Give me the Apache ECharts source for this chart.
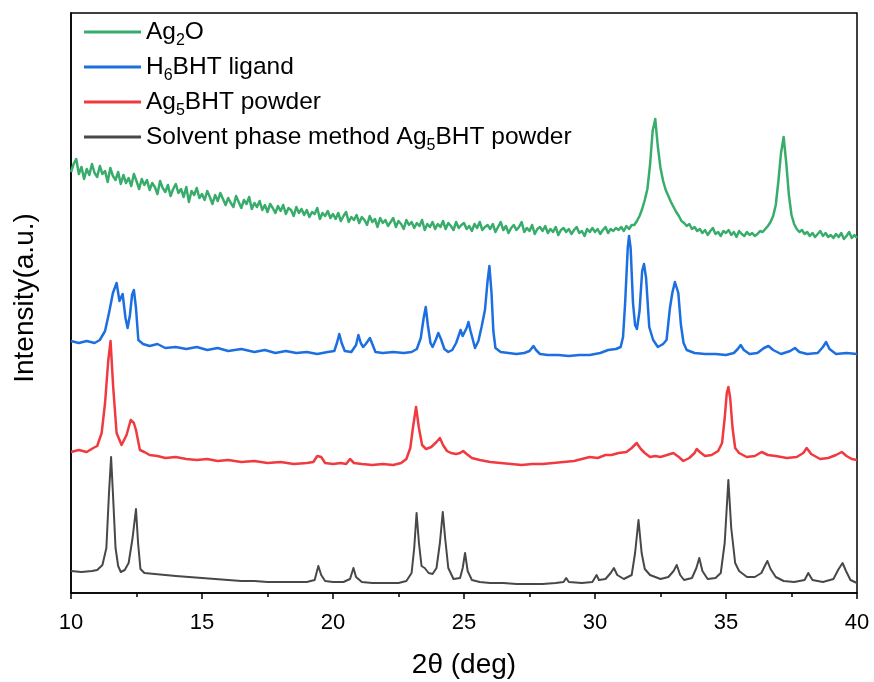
<!DOCTYPE html>
<html>
<head>
<meta charset="utf-8">
<script src="https://cdn.jsdelivr.net/npm/echarts@6/dist/echarts.min.js"></script>
<style>
html,body{margin:0;padding:0;background:#fff;}
#chart{width:874px;height:682px;}
</style>
</head>
<body>
<div id="chart"></div>
<script>
// 2θ axis
const xMin = 10, xMax = 40, xInterval = 5;

// Series names (legend labels use rich-text subscripts)
const seriesNames = ['Ag2O', 'H6BHT ligand', 'Ag5BHT powder', 'Solvent phase method Ag5BHT powder'];
const legendLabels = {
  'Ag2O': '{m|Ag}{sub|2}{m|O}',
  'H6BHT ligand': '{m|H}{sub|6}{m|BHT ligand}',
  'Ag5BHT powder': '{m|Ag}{sub|5}{m|BHT powder}',
  'Solvent phase method Ag5BHT powder': '{m|Solvent phase method Ag}{sub|5}{m|BHT powder}'
};

// Ag2O scan: evenly stepped, 10.0° to 40.0° every 0.1° (offset intensity, a.u.)
const ag2oStart = 10, ag2oStep = 0.1;
const ag2o = [
  421, 429, 434, 419, 426, 414, 424, 418, 429, 420,
  416, 427, 419, 422, 411, 425, 417, 413, 421, 409,
  418, 410, 415, 407, 419, 412, 404, 414, 408, 413,
  403, 410, 406, 399, 412, 405, 401, 408, 397, 404,
  409, 400, 404, 396, 406, 391, 402, 398, 405, 395,
  399, 393, 402, 396, 389, 398, 392, 400, 394, 388,
  395, 390, 386, 397, 391, 385, 393, 389, 396, 384,
  390, 386, 392, 383, 388, 381, 389, 385, 380, 387,
  382, 388, 379, 385, 383, 377, 386, 380, 384, 378,
  383, 376, 381, 379, 385, 374, 380, 377, 382, 375,
  379, 374, 380, 372, 377, 381, 371, 376, 373, 378,
  370, 376, 373, 368, 377, 371, 374, 366, 375, 370,
  373, 367, 371, 375, 366, 372, 369, 364, 373, 368,
  371, 365, 370, 367, 373, 363, 369, 366, 371, 364,
  369, 366, 372, 364, 370, 367, 363, 371, 365, 368,
  370, 364, 367, 362, 369, 365, 371, 363, 366, 368,
  364, 369, 361, 366, 371, 363, 367, 360, 365, 368,
  363, 366, 371, 361, 365, 362, 368, 359, 364, 366,
  362, 367, 360, 364, 361, 366, 358, 363, 365, 361,
  364, 359, 363, 366, 360, 362, 357, 364, 361, 365,
  361, 364, 359, 363, 366, 360, 364, 362, 365, 363,
  366, 362, 367, 364, 368, 368, 372, 377, 384, 393,
  404, 428, 462, 474, 446, 425, 412, 403, 397, 391,
  386, 381, 377, 372, 370, 367, 369, 364, 366, 362,
  364, 360, 363, 358, 362, 365, 359, 361, 357, 362,
  360, 363, 358, 361, 356, 362, 359, 357, 361, 358,
  360, 357, 359, 362, 361, 364, 367, 371, 377, 388,
  412, 440, 456, 430, 398, 378, 369, 364, 361, 363,
  359, 361, 357, 360, 356, 359, 362, 357, 360, 356,
  358, 355, 359, 356, 360, 354, 357, 361, 355, 358,
  355
];

// H6BHT ligand: [2θ, offset intensity]
const ligand = [
  [10.0, 252], [10.3, 250], [10.6, 252], [10.9, 250], [11.1, 253], [11.3, 262], [11.45, 280],
  [11.6, 300], [11.74, 310], [11.85, 292], [11.97, 299], [12.08, 275], [12.16, 265], [12.25, 278],
  [12.33, 298], [12.40, 303], [12.48, 285], [12.57, 253], [12.75, 249], [13.0, 247], [13.3, 249],
  [13.6, 245], [14.0, 246], [14.4, 244], [14.8, 246], [15.2, 243], [15.6, 245], [16.0, 242],
  [16.5, 244], [17.0, 241], [17.4, 243], [17.8, 240], [18.2, 242], [18.6, 240], [19.0, 241],
  [19.4, 239], [19.8, 241], [20.05, 242], [20.15, 250], [20.24, 259], [20.33, 250], [20.45, 242],
  [20.7, 241], [20.88, 248], [20.97, 258], [21.06, 250], [21.15, 246], [21.25, 249], [21.41, 255],
  [21.5, 249], [21.62, 241], [21.9, 240], [22.3, 241], [22.7, 240], [23.0, 241], [23.2, 244],
  [23.35, 255], [23.46, 275], [23.54, 286], [23.62, 268], [23.72, 250], [23.8, 246], [23.92, 253],
  [24.02, 260], [24.12, 254], [24.25, 244], [24.4, 241], [24.55, 243], [24.7, 250], [24.87, 263],
  [24.95, 257], [25.01, 255], [25.1, 265], [25.17, 271], [25.25, 262], [25.42, 245], [25.55, 252],
  [25.67, 266], [25.8, 283], [25.9, 312], [25.97, 327], [26.05, 300], [26.12, 262], [26.2, 245],
  [26.4, 241], [26.7, 240], [27.0, 239], [27.3, 240], [27.5, 242], [27.65, 247], [27.75, 243],
  [27.9, 239], [28.2, 238], [28.6, 238], [29.0, 237], [29.4, 238], [29.8, 238], [30.2, 240],
  [30.5, 243], [30.8, 244], [30.98, 246], [31.07, 256], [31.15, 290], [31.25, 345], [31.30, 357],
  [31.36, 345], [31.45, 290], [31.53, 268], [31.6, 264], [31.7, 282], [31.8, 322], [31.87, 329],
  [31.95, 315], [32.07, 266], [32.22, 253], [32.4, 246], [32.6, 249], [32.73, 253], [32.86, 285],
  [32.95, 300], [33.05, 311], [33.1, 312], [33.18, 300], [33.28, 268], [33.38, 250], [33.5, 243],
  [33.8, 240], [34.2, 239], [34.6, 239], [35.0, 238], [35.3, 240], [35.45, 244], [35.56, 248],
  [35.68, 243], [35.9, 239], [36.2, 240], [36.45, 245], [36.62, 247], [36.8, 243], [37.1, 239],
  [37.45, 242], [37.63, 245], [37.8, 241], [38.1, 239], [38.5, 240], [38.7, 246], [38.82, 251],
  [38.95, 244], [39.2, 239], [39.6, 240], [40.0, 239]
];

// Ag5BHT powder: [2θ, offset intensity]
const powder = [
  [10.0, 141], [10.3, 143], [10.6, 141], [10.85, 145], [11.0, 147], [11.17, 160], [11.3, 190],
  [11.42, 232], [11.51, 252], [11.61, 206], [11.74, 160], [11.93, 148], [12.12, 158], [12.28, 173],
  [12.4, 170], [12.48, 163], [12.63, 143], [12.8, 141], [13.0, 138], [13.3, 137], [13.6, 135],
  [14.0, 136], [14.4, 134], [14.8, 133], [15.2, 134], [15.6, 132], [16.0, 133], [16.5, 131],
  [17.0, 132], [17.5, 130], [18.0, 131], [18.5, 129], [19.0, 130], [19.25, 131], [19.4, 137],
  [19.55, 136], [19.7, 130], [20.0, 129], [20.3, 130], [20.5, 129], [20.65, 134], [20.8, 130],
  [21.1, 129], [21.5, 128], [21.9, 129], [22.3, 128], [22.6, 130], [22.8, 134], [22.95, 145],
  [23.05, 165], [23.17, 186], [23.28, 165], [23.4, 148], [23.55, 144], [23.75, 146], [23.95, 151],
  [24.08, 155], [24.2, 148], [24.35, 142], [24.5, 140], [24.7, 139], [24.85, 140], [24.97, 142],
  [25.1, 139], [25.3, 135], [25.6, 133], [26.0, 131], [26.4, 130], [26.8, 129], [27.2, 128],
  [27.6, 129], [28.0, 129], [28.4, 130], [28.8, 131], [29.2, 132], [29.5, 134], [29.8, 136],
  [30.1, 135], [30.4, 138], [30.63, 138], [30.9, 140], [31.2, 141], [31.4, 145], [31.59, 150],
  [31.75, 144], [31.9, 140], [32.1, 136], [32.3, 137], [32.5, 136], [32.75, 138], [32.99, 140],
  [33.2, 136], [33.37, 132], [33.6, 135], [33.8, 140], [33.88, 144], [34.0, 141], [34.2, 137],
  [34.45, 138], [34.7, 142], [34.85, 150], [34.95, 175], [35.03, 200], [35.09, 206], [35.16, 195],
  [35.25, 165], [35.35, 145], [35.5, 140], [35.79, 136], [36.1, 137], [36.36, 141], [36.6, 138],
  [36.9, 137], [37.32, 135], [37.7, 136], [37.95, 140], [38.08, 145], [38.25, 139], [38.59, 134],
  [38.9, 135], [39.2, 138], [39.42, 141], [39.6, 137], [39.8, 134], [40.0, 133]
];

// Solvent phase method Ag5BHT powder: [2θ, offset intensity]
const solvent = [
  [10.0, 22], [10.4, 21], [10.8, 22], [11.0, 23], [11.2, 28], [11.35, 45], [11.45, 100],
  [11.53, 136], [11.6, 100], [11.7, 45], [11.8, 27], [11.9, 21], [12.05, 23], [12.2, 30],
  [12.35, 55], [12.48, 84], [12.56, 50], [12.65, 24], [12.8, 20], [13.2, 19], [13.6, 18],
  [14.0, 17], [14.5, 16], [15.0, 15], [15.5, 14], [16.0, 13], [16.5, 12], [17.0, 12],
  [17.5, 11], [18.0, 11], [18.5, 11], [19.0, 11], [19.3, 13], [19.44, 27], [19.55, 18],
  [19.7, 12], [20.0, 11], [20.4, 11], [20.65, 14], [20.78, 25], [20.88, 16], [21.1, 11],
  [21.5, 10], [22.0, 10], [22.5, 10], [22.8, 12], [23.0, 20], [23.1, 45], [23.19, 80],
  [23.28, 50], [23.38, 27], [23.5, 25], [23.65, 20], [23.8, 19], [23.95, 25], [24.08, 50],
  [24.19, 81], [24.28, 55], [24.4, 25], [24.6, 14], [24.85, 15], [24.95, 25], [25.04, 40],
  [25.14, 22], [25.3, 13], [25.6, 11], [26.0, 10], [26.5, 10], [27.0, 9], [27.5, 9],
  [28.0, 9], [28.5, 10], [28.8, 11], [28.9, 15], [29.0, 11], [29.5, 10], [29.9, 11],
  [30.06, 18], [30.15, 13], [30.4, 14], [30.6, 20], [30.72, 25], [30.85, 18], [31.1, 14],
  [31.4, 18], [31.53, 40], [31.66, 73], [31.78, 40], [31.9, 24], [31.97, 23], [32.1, 18],
  [32.5, 14], [32.8, 16], [33.0, 22], [33.12, 28], [33.25, 18], [33.4, 13], [33.7, 15],
  [33.87, 25], [33.98, 35], [34.1, 22], [34.3, 14], [34.6, 15], [34.8, 20], [34.95, 50],
  [35.09, 113], [35.2, 65], [35.35, 30], [35.5, 22], [35.8, 16], [36.1, 16], [36.35, 20],
  [36.5, 28], [36.58, 32], [36.7, 24], [36.9, 16], [37.2, 12], [37.6, 11], [38.0, 13],
  [38.14, 20], [38.3, 13], [38.7, 11], [39.1, 14], [39.3, 24], [39.45, 30], [39.58, 22],
  [39.75, 13], [40.0, 10]
];

const colors = ['#38ad6b', '#1c6fe0', '#f03a3f', '#484848'];
const lineWidths = [2.5, 2.5, 2.5, 2];

const ag2oPairs = ag2o.map((v, i) => [+(ag2oStart + i * ag2oStep).toFixed(2), v]);
const allData = [ag2oPairs, ligand, powder, solvent];

const FONT = 'Arial, "Liberation Sans", sans-serif';
const chart = echarts.init(document.getElementById('chart'), null, { renderer: 'canvas' });

chart.setOption({
  animation: false,
  backgroundColor: '#fff',
  grid: {
    left: 71, right: 17, top: 13, bottom: 89,
    containLabel: false,
    outerBoundsMode: 'none',
    show: true,
    borderColor: '#000',
    borderWidth: 1.5,
    backgroundColor: 'transparent'
  },
  legend: {
    orient: 'vertical',
    left: 84,
    top: 15,
    padding: 0,
    icon: 'rect',
    itemWidth: 57,
    itemHeight: 3,
    itemGap: 1,
    data: seriesNames,
    formatter: name => legendLabels[name],
    textStyle: {
      fontFamily: FONT,
      fontSize: 24.5,
      color: '#000',
      lineHeight: 28,
      rich: {
        m: { fontFamily: FONT, fontSize: 24.5, color: '#000', lineHeight: 22, padding: [3, 0, 3, 0] },
        sub: { fontFamily: FONT, fontSize: 16, color: '#000', lineHeight: 10, padding: [18, 0, 0, 0] }
      }
    }
  },
  xAxis: {
    type: 'value',
    min: xMin, max: xMax, interval: xInterval,
    name: '2θ (deg)',
    nameLocation: 'middle',
    nameGap: 58,
    nameTextStyle: { fontFamily: FONT, fontSize: 28, color: '#000' },
    axisLine: { show: true, onZero: false, lineStyle: { color: '#000', width: 1.5 } },
    axisTick: { show: true, inside: false, length: 6, lineStyle: { color: '#000', width: 1.5 } },
    minorTick: { show: true, splitNumber: 2, length: 4, lineStyle: { color: '#000', width: 1.5 } },
    axisLabel: { fontFamily: FONT, fontSize: 22, color: '#000', margin: 19 },
    splitLine: { show: false },
    minorSplitLine: { show: false }
  },
  yAxis: {
    type: 'value',
    min: 0, max: 580,
    name: 'Intensity(a.u.)',
    nameLocation: 'middle',
    nameGap: 32,
    nameRotate: 90,
    nameTextStyle: { fontFamily: FONT, fontSize: 28, color: '#000', padding: [0, 0, 0, 10] },
    axisLine: { show: true, onZero: false, lineStyle: { color: '#000', width: 1.5 } },
    axisTick: { show: false },
    axisLabel: { show: false },
    splitLine: { show: false }
  },
  series: seriesNames.map((name, i) => ({
    name,
    type: 'line',
    data: allData[i],
    symbol: 'none',
    showSymbol: false,
    smooth: false,
    clip: true,
    lineStyle: { color: colors[i], width: lineWidths[i], join: 'round' },
    itemStyle: { color: colors[i] },
    z: 2 + i
  }))
});
</script>
</body>
</html>
